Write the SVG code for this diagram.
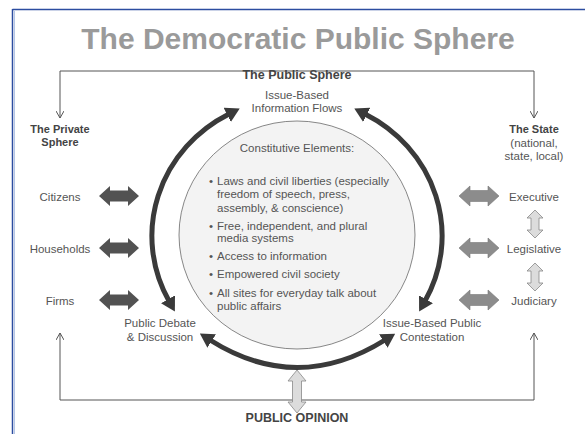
<svg xmlns="http://www.w3.org/2000/svg" width="585" height="434" viewBox="0 0 585 434">
<style>
text{font-family:"Liberation Sans",Arial,sans-serif;fill:#555;font-size:11.5px}
.c{text-anchor:middle}
.b{font-weight:bold;fill:#444}
.thin{fill:none;stroke:#555;stroke-width:1}
.ring{fill:none;stroke:#3a3a3a;stroke-width:5}
.da{fill:#525252}
.ga{fill:#8c8c8c;stroke:#777;stroke-width:0.6}
.la{fill:#dcdcdc;stroke:#888;stroke-width:0.8}
</style>
<defs>
<marker id="big" viewBox="0 0 14 16" refX="2" refY="8" markerWidth="14" markerHeight="16" markerUnits="userSpaceOnUse" orient="auto-start-reverse">
<path d="M0,0 L14,8 L0,16 Z" fill="#3a3a3a"/>
</marker>
<marker id="small" viewBox="0 0 8 8" refX="7" refY="4" markerWidth="8" markerHeight="8" markerUnits="userSpaceOnUse" orient="auto-start-reverse">
<path d="M0,0 L7,4 L0,8" fill="none" stroke="#555" stroke-width="1"/>
</marker>
<path id="harrow" d="M-20,0 L-9,-10 L-9,-5.5 L9,-5.5 L9,-10 L20,0 L9,10 L9,5.5 L-9,5.5 L-9,10 Z"/>
<path id="varrow" d="M0,-14 L8,-6 L4,-6 L4,6 L8,6 L0,14 L-8,6 L-4,6 L-4,-6 L-8,-6 Z"/>
</defs>

<!-- frame -->
<line x1="12.5" y1="9.5" x2="585" y2="9.5" stroke="#2c4da0" stroke-width="1.5"/>
<line x1="12.5" y1="9" x2="12.5" y2="434" stroke="#2c4da0" stroke-width="1.5"/>
<line x1="14.5" y1="11" x2="14.5" y2="434" stroke="#b5c6e6" stroke-width="1"/>

<text id="title" x="298" y="49" class="c" style="font-size:30px;font-weight:bold;fill:#9a9a9a">The Democratic Public Sphere</text>

<g id="connectors">
<polyline class="thin" points="60,118 60,71 534,71 534,118" marker-start="url(#small)" marker-end="url(#small)"/>
<polyline class="thin" points="60,333 60,400 534,400 534,333" marker-start="url(#small)" marker-end="url(#small)"/>
<path class="ring" d="M169,301 A145 138 0 0 1 229,114" marker-start="url(#big)" marker-end="url(#big)"/>
<path class="ring" d="M365,114 A145 138 0 0 1 425,301" marker-start="url(#big)" marker-end="url(#big)"/>
<path class="ring" d="M210,340 Q297,395 385,340" marker-start="url(#big)" marker-end="url(#big)"/>
<use href="#harrow" class="da" x="119" y="196"/>
<use href="#harrow" class="da" x="119" y="248"/>
<use href="#harrow" class="da" x="119" y="300"/>
<use href="#harrow" class="ga" x="479" y="196"/>
<use href="#harrow" class="ga" x="479" y="248"/>
<use href="#harrow" class="ga" x="479" y="300"/>
<use href="#varrow" class="la" x="535" y="224"/>
<use href="#varrow" class="la" x="535" y="277"/>
<path class="la" d="M297,370 L306,381 L301.5,381 L301.5,402 L306,402 L297,413 L288,402 L292.5,402 L292.5,381 L288,381 Z"/>
</g>

<g id="public-sphere">
<text x="297" y="79" class="c b" style="font-size:12.5px">The Public Sphere</text>
</g>

<g id="info-flows">
<text x="297" y="99" class="c">Issue-Based</text>
<text x="297" y="112" class="c">Information Flows</text>
</g>

<g id="elements">
<ellipse cx="297" cy="235" rx="118" ry="114" fill="#f3f3f3" stroke="#555" stroke-width="0.7"/>
<text x="297" y="152" class="c">Constitutive Elements:</text>
<text x="209" y="185">•</text><text x="217" y="185">Laws and civil liberties (especially</text>
<text x="217" y="198">freedom of speech, press,</text>
<text x="217" y="212">assembly, &amp; conscience)</text>
<text x="209" y="230">•</text><text x="217" y="230">Free, independent, and plural</text>
<text x="217" y="242">media systems</text>
<text x="209" y="260">•</text><text x="217" y="260">Access to information</text>
<text x="209" y="278">•</text><text x="217" y="278">Empowered civil society</text>
<text x="209" y="297">•</text><text x="217" y="297">All sites for everyday talk about</text>
<text x="217" y="310">public affairs</text>
</g>

<g id="private-sphere">
<text x="60" y="133" class="c b" style="font-size:11px">The Private</text>
<text x="60" y="146" class="c b" style="font-size:11px">Sphere</text>
</g>
<g id="citizens"><text x="60" y="201" class="c">Citizens</text></g>
<g id="households"><text x="60" y="253" class="c">Households</text></g>
<g id="firms"><text x="60" y="305" class="c">Firms</text></g>

<g id="state">
<text x="534" y="133" class="c b" style="font-size:11px">The State</text>
<text x="534" y="147" class="c">(national,</text>
<text x="534" y="160" class="c">state, local)</text>
</g>
<g id="executive"><text x="534" y="201" class="c">Executive</text></g>
<g id="legislative"><text x="534" y="253" class="c">Legislative</text></g>
<g id="judiciary"><text x="534" y="305" class="c">Judiciary</text></g>

<g id="public-debate">
<text x="160" y="327" class="c">Public Debate</text>
<text x="160" y="341" class="c">&amp; Discussion</text>
</g>
<g id="contestation">
<text x="432" y="327" class="c">Issue-Based Public</text>
<text x="432" y="341" class="c">Contestation</text>
</g>
<g id="public-opinion">
<text x="297" y="422" class="c b" style="font-size:12.5px">PUBLIC OPINION</text>
</g>
</svg>
